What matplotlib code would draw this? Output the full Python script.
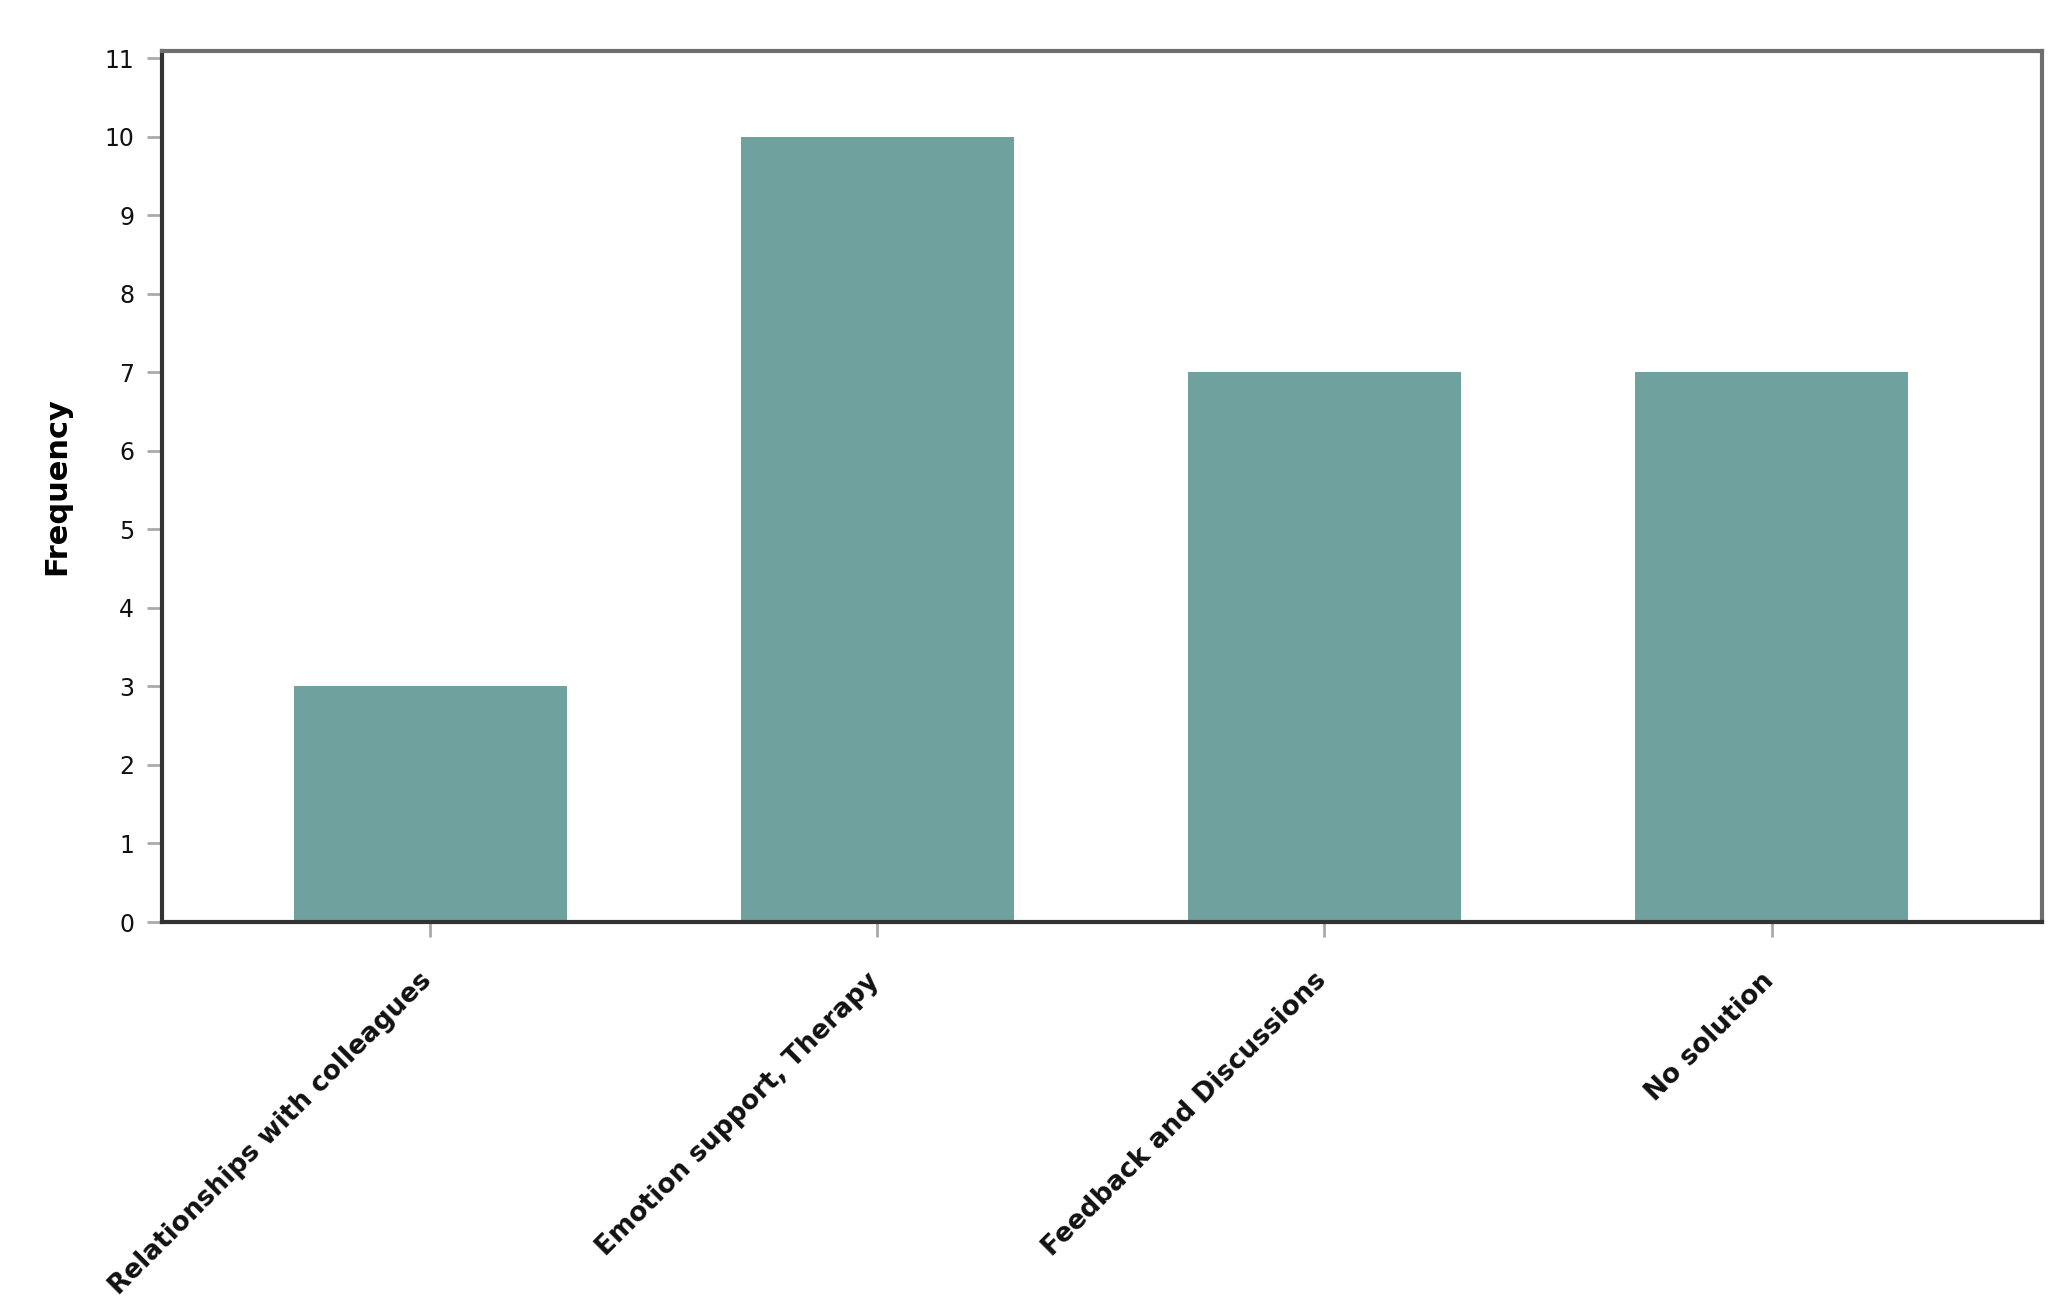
import matplotlib.pyplot as plt
from matplotlib.transforms import ScaledTranslation

# ── Data ──────────────────────────────────────────────────────────────────────
categories = ['Relationships with colleagues', 'Emotion support, Therapy',
              'Feedback and Discussions', 'No solution']
frequency  = [3, 10, 7, 7]
y_ticks    = list(range(0, 12))

BAR_COLOR = '#6fa29e'

# ── Plot ──────────────────────────────────────────────────────────────────────
fig = plt.figure(figsize=(20.68, 13.16), dpi=100)
ax = fig.add_axes([162 / 2068, 1 - 922 / 1316, (2042 - 162) / 2068, (922 - 51) / 1316])

x = list(range(len(categories)))
ax.bar(x, frequency, width=0.61, color=BAR_COLOR, zorder=2)

ax.set_xlim(-0.6, 3.605)
ax.set_ylim(0, 11.09)
ax.set_yticks(y_ticks)
ax.set_yticklabels([str(t) for t in y_ticks], fontsize=17, color='#111111')
ax.set_xticks(x)
ax.set_xticklabels([])

# rotated category labels, right end just under each tick
shift = ScaledTranslation(-0.02, -0.55, fig.dpi_scale_trans)
for xi, name in zip(x, categories):
    ax.text(xi, 0, name, transform=ax.get_xaxis_transform() + shift,
            rotation=45, ha='right', va='center', rotation_mode='anchor',
            fontsize=19, fontweight='bold', color='#111111')

ax.tick_params(axis='both', color='#aaaaaa', width=2, length=11)
ax.tick_params(axis='y', pad=9)

for side in ['left', 'bottom']:
    ax.spines[side].set_color('#333333')
    ax.spines[side].set_linewidth(3)
for side in ['top', 'right']:
    ax.spines[side].set_color('#6e6e6e')
    ax.spines[side].set_linewidth(3)

ax.set_ylabel('Frequency', fontsize=22, fontweight='bold', labelpad=24)

fig.savefig('out.png', dpi=100, facecolor='white')
